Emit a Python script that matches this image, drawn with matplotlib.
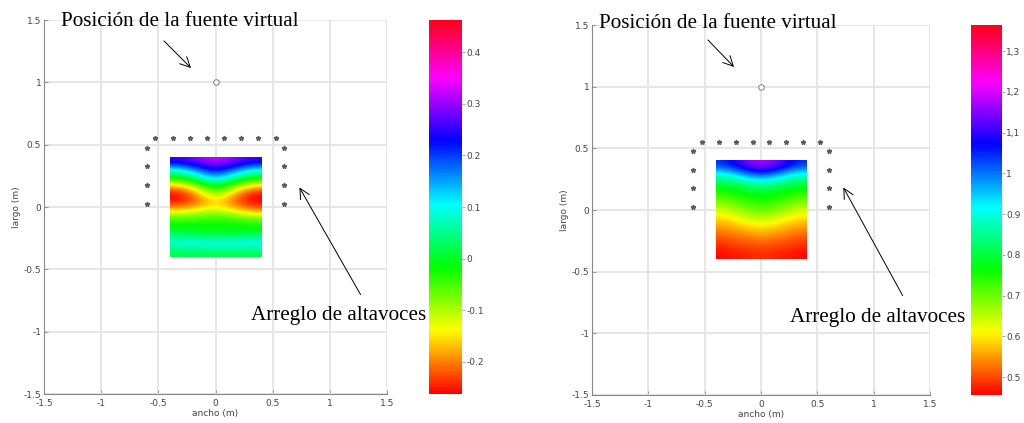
import matplotlib
matplotlib.use("Agg")
import matplotlib.pyplot as plt
import numpy as np

# posiciones de los altavoces (m)
top_x = [-0.525, -0.375, -0.225, -0.075, 0.075, 0.225, 0.375, 0.525]
top_y = [0.55] * 8
side_y = [0.475, 0.325, 0.175, 0.025]
left_x = [-0.6] * 4
right_x = [0.6] * 4

# fuente virtual
src_x = [0.0]
src_y = [1.0]

# campo sonoro leido de la imagen
# izquierda: filas y=0.40 ... -0.40 (paso 0.05), columnas x=-0.4, -0.2, 0, 0.2, 0.4
field_a = [
    [0.25, 0.29, 0.33, 0.29, 0.25],
    [0.18, 0.23, 0.28, 0.23, 0.18],
    [0.06, 0.15, 0.22, 0.15, 0.07],
    [-0.02, 0.06, 0.15, 0.06, -0.01],
    [-0.12, -0.04, 0.05, -0.04, -0.11],
    [-0.22, -0.13, -0.02, -0.12, -0.21],
    [-0.26, -0.19, -0.08, -0.19, -0.26],
    [-0.25, -0.21, -0.14, -0.21, -0.26],
    [-0.20, -0.17, -0.13, -0.18, -0.23],
    [-0.12, -0.10, -0.08, -0.11, -0.15],
    [-0.05, -0.05, -0.04, -0.05, -0.07],
    [-0.02, -0.02, -0.02, -0.02, -0.03],
    [0.01, 0.00, 0.00, 0.00, 0.00],
    [0.05, 0.03, 0.03, 0.03, 0.04],
    [0.09, 0.10, 0.10, 0.10, 0.10],
    [0.05, 0.06, 0.06, 0.06, 0.06],
    [0.02, 0.02, 0.02, 0.02, 0.02],
]
# derecha: filas y=0.4 ... -0.4 (paso 0.1), columnas x=-0.4 ... 0.4 (paso 0.1)
field_b = [
    [1.05, 1.08, 1.12, 1.16, 1.18, 1.16, 1.12, 1.08, 1.05],
    [0.86, 0.88, 0.92, 0.96, 0.98, 0.96, 0.92, 0.88, 0.86],
    [0.77, 0.78, 0.79, 0.80, 0.81, 0.80, 0.79, 0.78, 0.77],
    [0.71, 0.72, 0.74, 0.75, 0.76, 0.75, 0.74, 0.72, 0.71],
    [0.64, 0.66, 0.68, 0.70, 0.71, 0.70, 0.68, 0.66, 0.64],
    [0.58, 0.59, 0.61, 0.63, 0.63, 0.63, 0.61, 0.59, 0.58],
    [0.53, 0.54, 0.55, 0.56, 0.57, 0.56, 0.55, 0.54, 0.53],
    [0.49, 0.50, 0.51, 0.51, 0.52, 0.51, 0.51, 0.50, 0.49],
    [0.46, 0.47, 0.47, 0.48, 0.48, 0.48, 0.47, 0.47, 0.46],
]
lim_a = (-0.262, 0.462)
lim_b = (0.456, 1.364)

cb_ticks_a = [-0.2, -0.1, 0, 0.1, 0.2, 0.3, 0.4]
cb_labels_a = ["-0.2", "-0.1", "0", "0.1", "0.2", "0.3", "0.4"]
cb_ticks_b = [0.5, 0.6, 0.7, 0.8, 0.9, 1.0, 1.1, 1.2, 1.3]
cb_labels_b = ["0.5", "0.6", "0.7", "0.8", "0.9", "1", "1,1", "1,2", "1,3"]

ticks = [-1.5, -1, -0.5, 0, 0.5, 1, 1.5]
tick_labels = ["-1.5", "-1", "-0.5", "0", "0.5", "1", "1.5"]

fig = plt.figure(figsize=(10.24, 4.23), dpi=100)
W, H = 1024.0, 423.0


def panel(ax_px, cb_px, field, lim, cb_ticks, cb_labels, notes):
    ax = fig.add_axes([ax_px[0] / W, 1 - ax_px[3] / H,
                       (ax_px[2] - ax_px[0]) / W, (ax_px[3] - ax_px[1]) / H])
    cax = fig.add_axes([cb_px[0] / W, 1 - cb_px[3] / H,
                        (cb_px[2] - cb_px[0]) / W, (cb_px[3] - cb_px[1]) / H])

    im = ax.imshow(np.array(field), extent=(-0.4, 0.4, -0.4, 0.4), origin="upper",
                   cmap="hsv", vmin=lim[0], vmax=lim[1], interpolation="bicubic",
                   aspect="auto", zorder=2)
    spk = dict(marker="*", ls="none", ms=3.5, color="#5a5a78", zorder=3)
    ax.plot(top_x, top_y, **spk)
    ax.plot(left_x, side_y, **spk)
    ax.plot(right_x, side_y, **spk)
    ax.plot(src_x, src_y, marker="o", ms=4, mfc="white", mec="#888888",
            mew=0.8, ls="none", zorder=3)

    ax.set_xlim(-1.5, 1.5)
    ax.set_ylim(-1.5, 1.5)
    ax.set_xticks(ticks)
    ax.set_xticklabels(tick_labels)
    ax.set_yticks(ticks)
    ax.set_yticklabels(tick_labels)
    ax.grid(True, color="#e6e6e6", lw=1.4)
    ax.set_axisbelow(True)
    for s in ["top", "right"]:
        ax.spines[s].set_visible(False)
    for s in ["left", "bottom"]:
        ax.spines[s].set_color("#888888")
        ax.spines[s].set_linewidth(0.8)
    ax.tick_params(direction="in", length=3, width=0.6, color="#888888",
                   labelsize=6.5, labelcolor="#444444", pad=2)
    ax.tick_params(axis="x", pad=3.5)
    ax.set_xlabel("ancho (m)", fontsize=6.5, color="#444444", labelpad=1)
    ax.set_ylabel("largo (m)", fontsize=6.5, color="#444444", labelpad=2)

    cb = fig.colorbar(im, cax=cax)
    cb.outline.set_visible(False)
    cb.set_ticks(cb_ticks)
    cb.set_ticklabels(cb_labels)
    cax.tick_params(length=2, width=0.5, color="#888888", labelsize=6.5,
                    labelcolor="#444444", pad=1)

    for txt, tpos, a_from, a_to in notes:
        ax.text(tpos[0], tpos[1], txt, family="Liberation Serif", fontsize=15.2,
                ha="left", va="baseline", clip_on=False, zorder=5)
        ax.annotate("", xy=a_to, xytext=a_from, annotation_clip=False,
                    arrowprops=dict(arrowstyle="->", lw=0.7, color="black",
                                    mutation_scale=18))


panel((44, 20, 387, 394), (429, 20, 462, 394), field_a, lim_a, cb_ticks_a, cb_labels_a,
      [("Posición de la fuente virtual", (-1.351, 1.452), (-0.468, 1.348), (-0.197, 1.099)),
       ("Arreglo de altavoces", (0.310, -0.906), (1.281, -0.722), (0.722, 0.176))])
panel((592, 25, 930, 395), (971, 25, 1002, 395), field_b, lim_b, cb_ticks_b, cb_labels_b,
      [("Posición de la fuente virtual", (-1.438, 1.476), (-0.488, 1.395), (-0.222, 1.143)),
       ("Arreglo de altavoces", (0.257, -0.908), (1.269, -0.714), (0.719, 0.203))])

fig.savefig("out.png", dpi=100)
